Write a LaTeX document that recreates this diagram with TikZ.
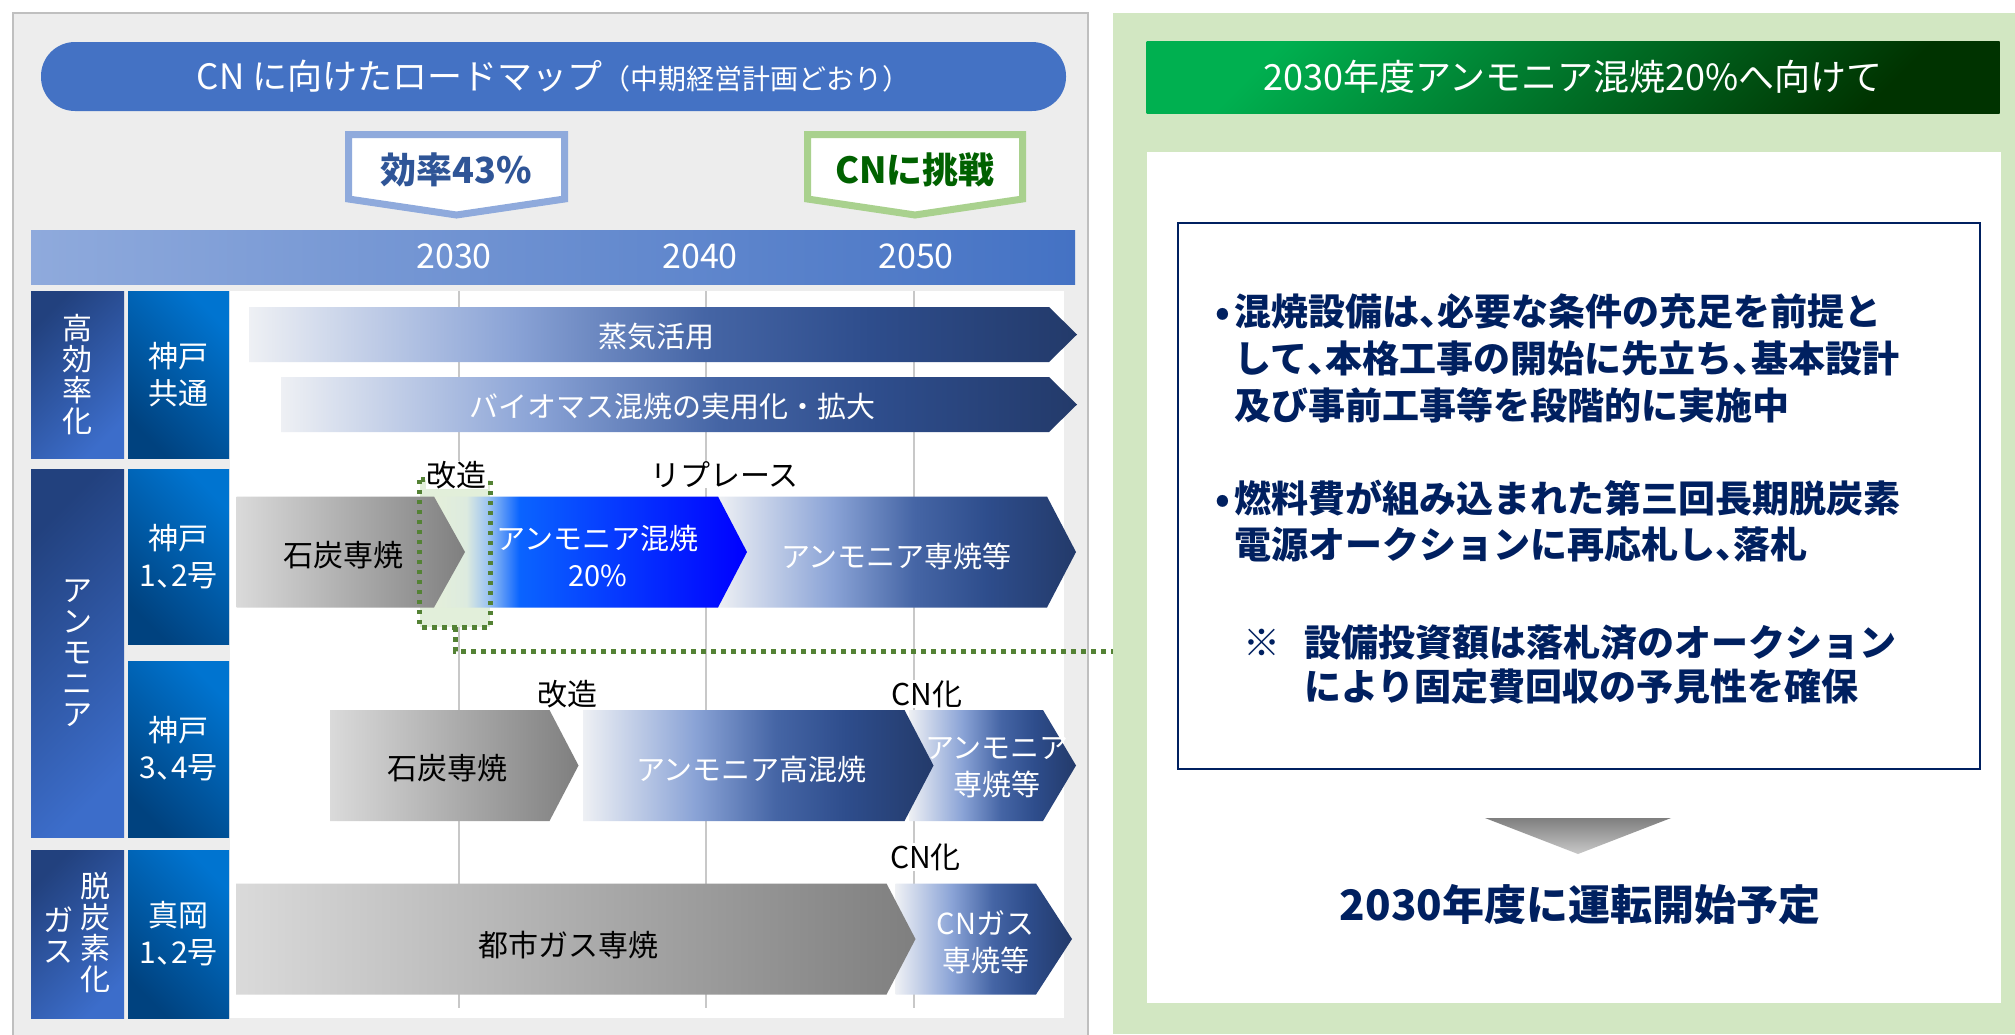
\documentclass[tikz,border=0pt]{standalone}
\usepackage{fontspec}
\setmainfont{Noto Sans CJK JP}
\newfontfamily\jphalt{Noto Sans CJK JP}[RawFeature=+halt]
\newcommand\tc{{\jphalt 、}}
\usetikzlibrary{calc}
\newcommand\fsz[2]{\fontsize{#1}{#2}\selectfont}
\definecolor{panelgray}{HTML}{EDEDED}
\definecolor{panelline}{HTML}{BFBFBF}
\definecolor{pill}{HTML}{4472C4}
\definecolor{effB}{HTML}{8FAADC}
\definecolor{effT}{HTML}{2F5597}
\definecolor{cnB}{HTML}{A9D18E}
\definecolor{cnT}{HTML}{006100}
\definecolor{tlA}{HTML}{8FAADC}
\definecolor{tlB}{HTML}{4472C4}
\definecolor{catA}{HTML}{22417E}
\definecolor{catB}{HTML}{3C6DCA}
\definecolor{subA}{HTML}{0074D0}
\definecolor{subB}{HTML}{00427F}
\definecolor{gridc}{HTML}{C8C8C8}
\definecolor{navy}{HTML}{002060}
\definecolor{rpg}{HTML}{D2E7C2}
\definecolor{hlfill}{HTML}{E2EFDA}
\definecolor{hlline}{HTML}{548235}
\definecolor{grA}{HTML}{DADADA}
\definecolor{grB}{HTML}{7F7F7F}
\definecolor{hdrA}{HTML}{00B050}
\definecolor{hdrB}{HTML}{003300}
\definecolor{nf0}{HTML}{EEF0F4}
\definecolor{nf1}{HTML}{A9BBE0}
\definecolor{nf2}{HTML}{8AA3D6}
\definecolor{nf3}{HTML}{4565A5}
\definecolor{nf4}{HTML}{2E4D8C}
\definecolor{nf5}{HTML}{233A6A}
\definecolor{bf0}{HTML}{E4EFDA}
\definecolor{bf1}{HTML}{DDEBDF}
\definecolor{bf2}{HTML}{9CC3F2}
\definecolor{bf3}{HTML}{0A64FF}
\definecolor{bf4}{HTML}{0000FF}
\pgfdeclarehorizontalshading{navyfade}{100bp}{color(0bp)=(nf0); color(25bp)=(nf0); color(36bp)=(nf1); color(41bp)=(nf2); color(52.5bp)=(nf3); color(62.5bp)=(nf4); color(75bp)=(nf5); color(100bp)=(nf5)}
\pgfdeclarehorizontalshading{bluefade}{100bp}{color(0bp)=(bf0); color(25bp)=(bf0); color(30bp)=(bf1); color(33.5bp)=(bf2); color(38.5bp)=(bf3); color(75bp)=(bf4); color(100bp)=(bf4)}
% chevron: style, x-left, y-top, x-body, x-tip, y-bottom
\newcommand\chev[6]{\path[#1] (#2,#3) -- (#4,#3) -- (#5,{(#3+#6)/2}) -- (#4,#6) -- (#2,#6) -- cycle;}
\begin{document}
\begin{tikzpicture}[x=1pt,y=-1pt,
  catbox/.style={inner sep=0, minimum width=93, top color=catA, bottom color=catB, shading angle=45, text=white, align=center, font=\fsz{30}{31}},
  subbox/.style={inner sep=0, minimum width=101, top color=subA, bottom color=subB, shading angle=-45, text=white, align=center, font=\fsz{30}{37}},
  wtxt/.style={text=white, align=center, inner sep=0, font=\fsz{29}{37}},
  btxt/.style={text=black, align=center, inner sep=0, font=\fsz{30}{37}},
  lbl/.style={fill=white, inner xsep=1, inner ysep=0, text=black, font=\fsz{30}{36}},
  navyshape/.style={shade, shading=navyfade},
  grayshape/.style={left color=grA, right color=grB},
  blueshape/.style={shade, shading=bluefade},
  gridline/.style={draw=gridc, line width=2},
  hlstyle/.style={draw=hlline, line width=5, dash pattern=on 4.5pt off 5.5pt},
  yearlbl/.style={text=white, inner sep=0, font=\fsz{34}{40}},
  para/.style={anchor=west, align=left, inner sep=0, text=navy, font=\bfseries\fsz{37}{47}}
]
\useasboundingbox (0,0) rectangle (2015,1034);
\fill[white] (0,0) rectangle (2015,1034);
% left panel
\fill[panelgray] (13,13) rectangle (1088,1040);
\draw[panelline, line width=2.5] (13,1040) -- (13,13) -- (1088,13) -- (1088,1040);
% right panel
\node[fill=rpg, minimum width=902, minimum height=1021, inner sep=0] (rp) at (1564,523.5) {};
\node[fill=white, minimum width=854, minimum height=851, inner sep=0] (inner) at (1574,577.5) {};

% title pill
\node[fill=pill, rounded corners=34, minimum width=1025, minimum height=69, inner sep=0, text=white] (title) at (553.5,76.5)
  {\fsz{35}{42}CN に向けたロードマップ\fsz{28}{34}（中期経営計画どおり）};

% milestones
\path[draw=effB, line width=7, fill=white, line join=miter] (348.5,134.5) -- (564.5,134.5) -- (564.5,199) -- (456.5,215) -- (348.5,199) -- cycle;
\node[text=effT, inner sep=0, font=\bfseries\fsz{36}{40}] (eff) at (456.5,170) {効率43\%};
\path[draw=cnB, line width=7, fill=white, line join=miter] (807.5,134.5) -- (1022.5,134.5) -- (1022.5,199) -- (915,215) -- (807.5,199) -- cycle;
\node[text=cnT, inner sep=0, font=\bfseries\fsz{36}{40}] (cnm) at (915,170) {CNに挑戦};

% timeline
\node[inner sep=0, minimum width=1044, minimum height=54, left color=tlA, right color=tlB] (tl) at (553,257) {};
\node[yearlbl] (y30) at (454,256) {2030};
\node[yearlbl] (y40) at (700,256) {2040};
\node[yearlbl] (y50) at (916,256) {2050};

% category column
\node[catbox, minimum height=167] (c1) at (77.5,374.5) {高\\効\\率\\化};
\node[catbox, minimum height=368] (c2) at (77.5,653) {ア\\ン\\モ\\ニ\\ア};
\node[catbox, minimum height=168] (c3) at (77.5,934) {};
\node[text=white, align=center, inner sep=0, font=\fsz{30}{31}] (c3a) at (95.5,933) {脱\\炭\\素\\化};
\node[text=white, align=center, inner sep=0, font=\fsz{30}{31}] (c3b) at (58,935) {ガ\\ス};

% sub column
\node[subbox, minimum height=167] (s1) at (178.5,374.5) {神戸\\共通};
\node[subbox, minimum height=175] (s2) at (178.5,556.5) {神戸\\1\tc 2号};
\node[subbox, minimum height=176] (s3) at (178.5,749) {神戸\\3\tc 4号};
\node[subbox, minimum height=168] (s4) at (178.5,934) {真岡\\1\tc 2号};

% chart area
\fill[white] (230,291) rectangle (1064,1018);
\draw[gridline] (459,291) -- (459,1008);
\draw[gridline] (705.5,291) -- (705.5,1008);
\draw[gridline] (913.5,291) -- (913.5,1008);

% highlight fill
\node[fill=hlfill, minimum width=70, minimum height=147, inner sep=0] (hl) at (455,553.5) {};

% bars: high efficiency
\chev{navyshape}{249}{307}{1049}{1077}{362}
\node[wtxt] (b1) at (656,337) {蒸気活用};
\chev{navyshape}{281}{377}{1049}{1077}{432}
\node[wtxt] (b2) at (672,407) {バイオマス混焼の実用化・拡大};

% Kobe 1,2
\chev{navyshape}{718}{496.5}{1047}{1076}{607.5}
\chev{blueshape}{435}{496.5}{718}{747}{607.5}
\chev{grayshape}{236.5}{496.5}{434}{465}{607.5}
\node[btxt] (k1a) at (343,555) {石炭専焼};
\node[wtxt] (k1b) at (597.5,556) {アンモニア混焼\\20\%};
\node[wtxt] (k1c) at (896.5,556) {アンモニア専焼等};

% Kobe 3,4
\chev{navyshape}{909}{710}{1043}{1076}{821}
\chev{navyshape}{583}{710}{904.5}{933.5}{821}
\chev{grayshape}{330}{710}{549.5}{578.5}{821}
\node[btxt] (k3a) at (447,768) {石炭専焼};
\node[wtxt] (k3b) at (751.5,769) {アンモニア高混焼};
\node[wtxt] (k3c) at (997,768) {アンモニア\\専焼等};

% Moka 1,2
\chev{navyshape}{895.5}{883.5}{1036}{1072}{994.5}
\chev{grayshape}{236}{883.5}{886.5}{915.5}{994.5}
\node[btxt] (m1a) at (568.5,945) {都市ガス専焼};
\node[wtxt] (m1b) at (985.5,942) {CNガス\\専焼等};

% highlight border and connector
\draw[hlstyle] (hl.north west) rectangle (hl.south east);
\coordinate (rpin) at (1113,651);
\draw[hlstyle] (hl.south) |- (rpin);

% labels
\node[lbl] (l1) at (456.5,475) {改造};
\node[lbl] (l2) at (724.5,475) {リプレース};
\node[lbl] (l3) at (567,694.5) {改造};
\node[lbl] (l4) at (927,694) {CN化};
\node[lbl] (l5) at (925.5,857) {CN化};

% right panel content
\node[inner sep=0, minimum width=853, minimum height=72, top color=hdrA, bottom color=hdrB, shading angle=45, text=white, font=\fsz{36}{40}] (hdr) at (1573,77) {2030年度アンモニア混焼20\%へ向けて};
\node[draw=navy, line width=2.5, fill=white, minimum width=802, minimum height=546, inner sep=0] (nbox) at (1579,496) {};
\node[para] (p1) at (1234,358) {\makebox[0pt][r]{•\hspace{4pt}}混焼設備は\tc 必要な条件の充足を前提と\\して\tc 本格工事の開始に先立ち\tc 基本設計\\及び事前工事等を段階的に実施中};
\node[para, font=\bfseries\fsz{37}{46}] (p2) at (1234,521) {\makebox[0pt][r]{•\hspace{4pt}}燃料費が組み込まれた第三回長期脱炭素\\電源オークションに再応札し\tc 落札};
\node[para, font=\bfseries\fsz{37}{44}] (p3) at (1243,665) {\makebox[61pt][l]{※}設備投資額は落札済のオークション\\\hspace*{61pt}により固定費回収の予見性を確保};
\shade[top color=grB, bottom color=grA!80!grB] (1485,818) -- (1671,818) -- (1578,854) -- cycle;
\node[inner sep=0, text=navy, font=\bfseries\fsz{42}{48}] (done) at (1580,905) {2030年度に運転開始予定};
\end{tikzpicture}
\end{document}
